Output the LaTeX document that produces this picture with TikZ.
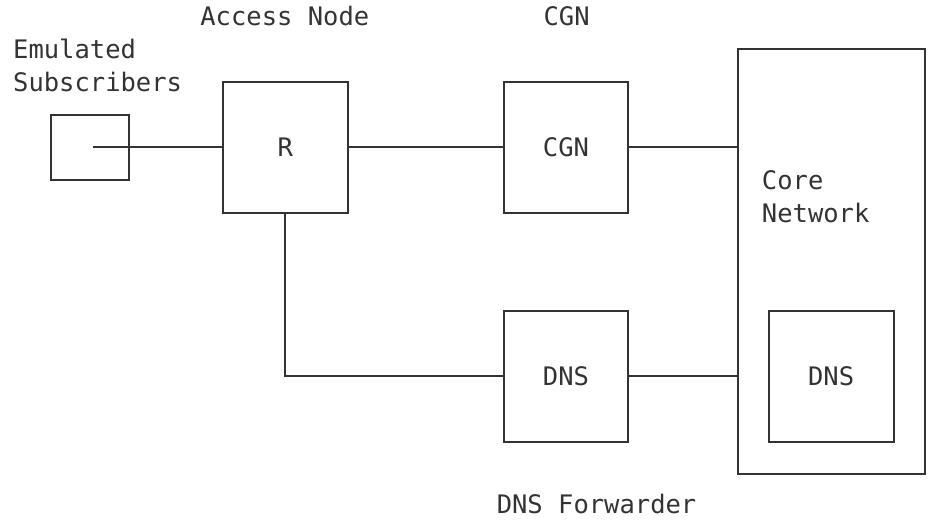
\documentclass[tikz,border=0pt]{standalone}
\usepackage{fontspec}
\setmonofont{DejaVu Sans Mono}
\usepackage{tikz}
\usetikzlibrary{positioning}
\usepackage{xcolor}
\definecolor{ink}{HTML}{333333}

\begin{document}
\begin{tikzpicture}[x=15.6pt, y=-32.7pt, line width=2pt, color=ink,
    font=\ttfamily\fontsize{25.5}{30}\selectfont,
    box/.style={draw, rectangle, inner sep=0pt, minimum width=124.8pt, minimum height=130.8pt},
    lbl/.style={anchor=west, inner sep=0pt, text height=18.5pt, text depth=0pt}]
       \useasboundingbox (-1.282,-0.508) rectangle (58.53,15.45);

       % boxes
       \node[box, minimum width=78pt, minimum height=65.4pt] (subs) at (4.5,4) {};
       \node[box] (acc) at (17,4) {R};
       \node[box] (cgn) at (35,4) {CGN};
       \node[box] (fwd) at (35,11) {DNS};
       \node[box, minimum width=187.2pt, minimum height=425.1pt] (core) at (52,7.5) {};
       \node[box] (dns) at (52,11) {DNS};
       \coordinate (subsin) at (4.7,4);

       % labels
       \node[lbl] (emu) at (-0.5,1) {Emulated};
       \node[lbl] (sub) at (-0.5,2) {Subscribers};
       \node[lbl] (acclbl) at (11.5,0) {Access Node};
       \node[lbl] (cgnlbl) at (33.5,0) {CGN};
       \node[lbl] (corelbl) at (47.5,5) {Core};
       \node[lbl] (netlbl) at (47.5,6) {Network};
       \node[lbl] (fwdlbl) at (30.5,14.92) {DNS Forwarder};

       % links
       \draw (subsin) -- (acc.west);
       \draw (acc.east) -- (cgn.west);
       \draw (cgn.east) -- (cgn.east -| core.west);
       \draw (acc.south) |- (fwd.west);
       \draw (fwd.east) -- (fwd.east -| core.west);
    \end{tikzpicture}
\end{document}
